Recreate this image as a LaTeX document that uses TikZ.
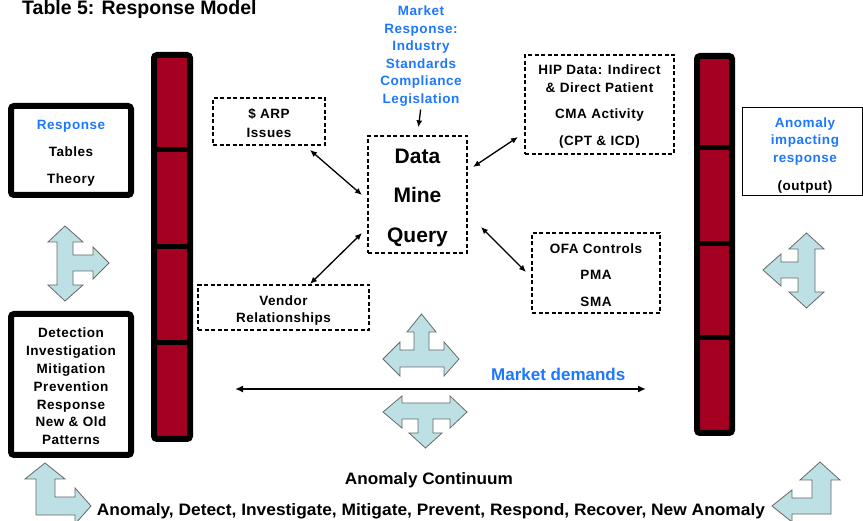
\documentclass[tikz,border=0pt]{standalone}
\usepackage{fontspec}
\setmainfont{Liberation Sans}
\newfontfamily\spacedfont{Liberation Sans}[LetterSpace=4]
\usetikzlibrary{arrows.meta}
\definecolor{barred}{RGB}{165,0,33}
\definecolor{ablue}{RGB}{30,120,255}
\definecolor{lblue}{RGB}{189,224,228}
\definecolor{agray}{RGB}{105,105,105}
\tikzset{
  dbox/.style={draw, dash pattern=on 4pt off 2.5pt, line width=1.4pt, inner sep=0pt},
  txt/.style={inner sep=0pt, align=center, font={\spacedfont\bfseries\fontsize{13.5}{#1}\selectfont}},
  thickbox/.style={draw, line width=6pt, rounded corners=3pt, inner sep=0pt},
  blockarrow/.style={fill=lblue, draw=agray, line width=0.8pt, line join=miter},
  conn/.style={line width=1.3pt, {Latex[length=7pt,width=6pt]}-{Latex[length=7pt,width=6pt]}},
  oneway/.style={line width=1.3pt, -{Latex[length=7pt,width=6pt]}},
  barborder/.style={draw=black, line width=6pt, rounded corners=3pt},
  bardiv/.style={draw=black, line width=5pt}
}
\begin{document}
\begin{tikzpicture}[x=1pt,y=-1pt]
\useasboundingbox (0,0) rectangle (863,521);
\fill[white] (0,0) rectangle (863,521);

% title
\node[anchor=base west, inner sep=0pt, font={\bfseries\fontsize{19.5}{22}\selectfont}] (title) at (22,15) {Table 5: Response Model};

% left bar
\fill[barred] (154,55) rectangle (190,439);
\draw[bardiv] (154,150) -- (190,150);
\draw[bardiv] (154,247) -- (190,247);
\draw[bardiv] (154,343) -- (190,343);
\draw[barborder] (154,55) rectangle (190,439);

% right bar
\fill[barred] (697,56) rectangle (732,433);
\draw[bardiv] (697,148) -- (732,148);
\draw[bardiv] (697,244) -- (732,244);
\draw[bardiv] (697,338) -- (732,338);
\draw[barborder] (697,56) rectangle (732,433);

% left thick boxes
\node[thickbox, minimum width=120pt, minimum height=89pt] (resp) at (71,150.5) {};
\node[txt=27] (resptext) at ([yshift=-3pt]resp.center) {\textcolor{ablue}{Response}\\Tables\\Theory};
\node[thickbox, minimum width=120pt, minimum height=141pt] (det) at (71,384.5) {};
\node[txt=17.8] (dettext) at ([yshift=-2pt]det.center)
  {Detection\\Investigation\\Mitigation\\Prevention\\Response\\New \& Old\\Patterns};

% right output box
\node[draw, line width=1pt, inner sep=0pt, minimum width=120pt, minimum height=88pt] (out) at (802,152) {};
\node[txt=17.5] (outtext) at ([xshift=3pt,yshift=-3.5pt]out.center)
  {\textcolor{ablue}{Anomaly}\\\textcolor{ablue}{impacting}\\\textcolor{ablue}{response}\\[10.5pt](output)};

% market response text
\node[txt=17.6, text=ablue] (mr) at (421,56)
  {Market\\Response:\\Industry\\Standards\\Compliance\\Legislation};

% central data box
\node[dbox, minimum width=99pt, minimum height=117pt] (data) at (417.5,194.5) {};
\node[inner sep=0pt, align=center, font={\bfseries\fontsize{21}{39.5}\selectfont}] (datatext) at ([yshift=-3pt]data.center)
  {Data\\Mine\\Query};

% dashed satellite boxes
\node[dbox, minimum width=112pt, minimum height=47pt] (arp) at (269,121.5) {};
\node[txt=19] (arptext) at ([yshift=-2pt]arp.center) {\$ ARP\\Issues};
\node[dbox, minimum width=171pt, minimum height=45pt] (vendor) at (283.5,307.5) {};
\node[txt=17] (vendortext) at ([yshift=-3pt]vendor.center) {Vendor\\Relationships};
\node[dbox, minimum width=128pt, minimum height=80pt] (ofa) at (596,273) {};
\node[txt=26.5] (ofatext) at ([yshift=-2pt]ofa.center) {OFA Controls\\PMA\\SMA};
\node[dbox, minimum width=149pt, minimum height=99pt] (hip) at (599.5,104.5) {};
\node[txt=18] (hiptext) at ([yshift=-2.5pt]hip.center)
  {HIP Data: Indirect\\\& Direct Patient\\[8pt]CMA Activity\\[9pt](CPT \& ICD)};

% connectors
\coordinate (arpEnd) at (310,150);
\coordinate (dataNW) at (362,195);
\coordinate (venEnd) at (310,284);
\coordinate (dataSW) at (362,233);
\coordinate (hipEnd) at (518,137);
\coordinate (dataNE) at (473,167);
\coordinate (ofaEnd) at (526,272);
\coordinate (dataSE) at (481,227);
\draw[conn] (arpEnd) -- (dataNW);
\draw[conn] (venEnd) -- (dataSW);
\draw[conn] (hipEnd) -- (dataNE);
\draw[conn] (ofaEnd) -- (dataSE);
\draw[oneway, shorten <=3pt, shorten >=8pt] (mr.south) -- (data.north);

% market demands
\coordinate (mdL) at (235,389);
\coordinate (mdR) at (646,389);
\draw[line width=2pt, {Latex[length=8pt,width=7pt]}-{Latex[length=8pt,width=7pt]}] (mdL) -- (mdR);
\node[anchor=base west, inner sep=0pt, text=ablue, font={\bfseries\fontsize{17}{20}\selectfont}] (md) at (491,381) {Market demands};

% block arrows
% left: up, down, right
\draw[blockarrow] (65,226) -- (83,242) -- (73,242) -- (73,255) -- (93,255) -- (93,247) -- (109,263) -- (93,279) -- (93,271) -- (73,271) -- (73,285) -- (83,285) -- (65,301) -- (48,285) -- (57,285) -- (57,242) -- (48,242) -- cycle;
% right: up, down, left
\draw[blockarrow] (806.5,233) -- (824,249) -- (815,249) -- (815,292) -- (824,292) -- (806.5,308) -- (789,292) -- (798,292) -- (798,278) -- (781,278) -- (781,286) -- (763,270) -- (781,254) -- (781,262) -- (798,262) -- (798,249) -- (789,249) -- cycle;
% center top: up, left, right
\draw[blockarrow] (421.5,314) -- (436,332) -- (429,332) -- (429,350) -- (444,350) -- (444,342) -- (459,359) -- (444,376) -- (444,367) -- (400,367) -- (400,376) -- (383,359) -- (400,342) -- (400,350) -- (414,350) -- (414,332) -- (407,332) -- cycle;
% center bottom: left, right, down
\draw[blockarrow] (383,412) -- (402,396) -- (402,403) -- (450,403) -- (450,396) -- (467,412) -- (450,428) -- (450,419) -- (433,419) -- (433,433) -- (442,433) -- (425.5,448) -- (409,433) -- (418,433) -- (418,419) -- (402,419) -- (402,428) -- cycle;
% bottom left L: up, right
\draw[blockarrow] (45,463) -- (65,479) -- (55,479) -- (55,497) -- (75,497) -- (75,488) -- (91,506) -- (75,524) -- (75,515) -- (36,515) -- (36,479) -- (25,479) -- cycle;
% bottom right L: up, left
\draw[blockarrow] (820,462) -- (840,480) -- (831,480) -- (831,514) -- (792,514) -- (792,522) -- (772,506) -- (792,490) -- (792,498) -- (812,498) -- (812,480) -- (800,480) -- cycle;

% bottom texts
\node[anchor=base, inner sep=0pt] (cont) at (429,484) {\resizebox{168pt}{12pt}{\bfseries Anomaly Continuum}};
\node[anchor=base, inner sep=0pt] (steps) at (431,515) {\resizebox{668pt}{12pt}{\bfseries Anomaly, Detect, Investigate, Mitigate, Prevent, Respond, Recover, New Anomaly}};
\end{tikzpicture}
\end{document}
